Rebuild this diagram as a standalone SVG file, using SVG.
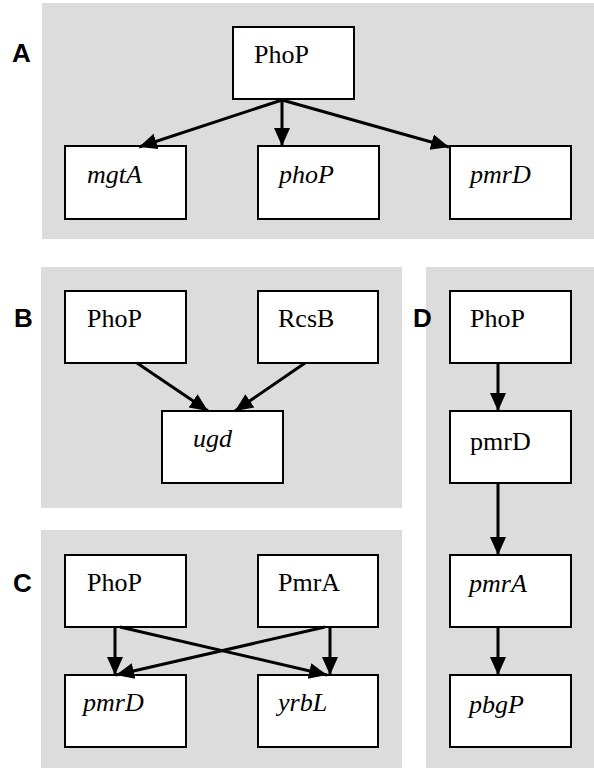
<svg xmlns="http://www.w3.org/2000/svg" width="594" height="768" viewBox="0 0 594 768">
  <style>
    .panel { fill: #dcdcdc; }
    .box { fill: #ffffff; stroke: #000000; stroke-width: 2; }
    .lbl { font-family: "Liberation Serif", "Times New Roman", Times, "DejaVu Serif", serif; font-size: 26px; fill: #000000; }
    .it { font-style: italic; }
    .tag { font-family: "Liberation Sans", Arial, sans-serif; font-size: 26px; font-weight: bold; fill: #000000; }
    .edge { stroke: #000000; stroke-width: 3; fill: none; marker-end: url(#head); }
  </style>
  <defs>
    <marker id="head" markerUnits="userSpaceOnUse" markerWidth="20" markerHeight="20" viewBox="0 0 20 20" refX="18" refY="10" orient="auto">
      <path d="M0,2 L18,10 L0,18 Z" fill="#000000"/>
    </marker>
  </defs>

  <!-- background panels -->
  <rect class="panel" x="42" y="3" width="552" height="236"/>
  <rect class="panel" x="41" y="267" width="361" height="241"/>
  <rect class="panel" x="41" y="530" width="361" height="238"/>
  <rect class="panel" x="426" y="267" width="168" height="501"/>

  <!-- panel tags -->
  <text class="tag" x="12" y="62">A</text>
  <text class="tag" x="14" y="327">B</text>
  <text class="tag" x="13" y="592">C</text>
  <text class="tag" x="413" y="327">D</text>

  <!-- panel A -->
  <g id="a-PhoP"><rect class="box" x="233" y="27" width="121" height="72"/><text class="lbl" x="254" y="63">PhoP</text></g>
  <g id="a-mgtA"><rect class="box" x="65" y="146" width="121" height="73"/><text class="lbl it" x="87" y="183">mgtA</text></g>
  <g id="a-phoP"><rect class="box" x="258" y="146" width="121" height="73"/><text class="lbl it" x="279" y="183">phoP</text></g>
  <g id="a-pmrD"><rect class="box" x="450" y="146" width="121" height="73"/><text class="lbl it" x="470" y="183">pmrD</text></g>

  <!-- panel B -->
  <g id="b-PhoP"><rect class="box" x="65" y="291" width="121" height="72"/><text class="lbl" x="87" y="327">PhoP</text></g>
  <g id="b-RcsB"><rect class="box" x="258" y="291" width="120" height="72"/><text class="lbl" x="278" y="327">RcsB</text></g>
  <g id="b-ugd"><rect class="box" x="162" y="411" width="121" height="72"/><text class="lbl it" x="193" y="447">ugd</text></g>

  <!-- panel C -->
  <g id="c-PhoP"><rect class="box" x="65" y="555" width="121" height="72"/><text class="lbl" x="87" y="591">PhoP</text></g>
  <g id="c-PmrA"><rect class="box" x="258" y="555" width="120" height="72"/><text class="lbl" x="278" y="591">PmrA</text></g>
  <g id="c-pmrD"><rect class="box" x="65" y="675" width="121" height="72"/><text class="lbl it" x="83" y="711">pmrD</text></g>
  <g id="c-yrbL"><rect class="box" x="258" y="675" width="120" height="72"/><text class="lbl it" x="278" y="711">yrbL</text></g>

  <!-- panel D -->
  <g id="d-PhoP"><rect class="box" x="450" y="291" width="121" height="72"/><text class="lbl" x="470" y="327">PhoP</text></g>
  <g id="d-pmrD"><rect class="box" x="450" y="411" width="121" height="72"/><text class="lbl" x="470" y="450">pmrD</text></g>
  <g id="d-pmrA"><rect class="box" x="450" y="555" width="121" height="72"/><text class="lbl it" x="469" y="592">pmrA</text></g>
  <g id="d-pbgP"><rect class="box" x="450" y="675" width="121" height="72"/><text class="lbl it" x="469" y="713">pbgP</text></g>

  <!-- connectors -->
  <g id="connectors">
    <line class="edge" x1="282" y1="100" x2="139" y2="147"/>
    <line class="edge" x1="282" y1="100" x2="282" y2="146"/>
    <line class="edge" x1="282" y1="100" x2="449" y2="147"/>

    <line class="edge" x1="137" y1="363" x2="208" y2="411"/>
    <line class="edge" x1="305" y1="363" x2="235" y2="411"/>

    <line class="edge" x1="115" y1="627" x2="115" y2="675"/>
    <line class="edge" x1="330" y1="627" x2="330" y2="675"/>
    <line class="edge" x1="120" y1="627" x2="327" y2="675"/>
    <line class="edge" x1="325" y1="627" x2="116" y2="675"/>

    <line class="edge" x1="498" y1="363" x2="498" y2="411"/>
    <line class="edge" x1="498" y1="483" x2="498" y2="555"/>
    <line class="edge" x1="498" y1="627" x2="498" y2="675"/>
  </g>
</svg>
